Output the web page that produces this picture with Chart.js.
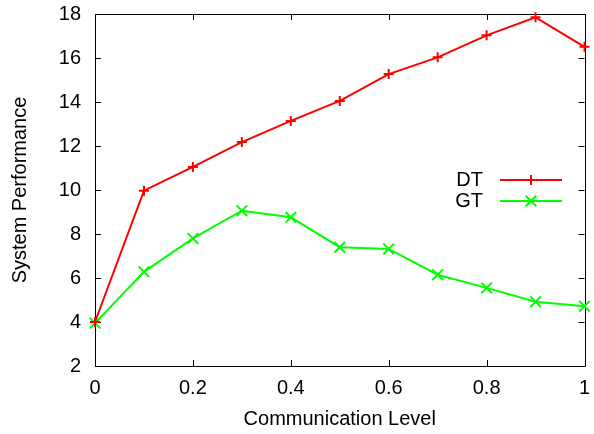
<!DOCTYPE html>
<html><head><meta charset="utf-8">
<script src="https://cdn.jsdelivr.net/npm/chart.js@4.4.1/dist/chart.umd.min.js"></script>
<style>html,body{margin:0;padding:0;background:#fff}canvas{display:block}</style>
</head><body>
<canvas id="c" width="594" height="434"></canvas>
<script>
const levels = [0, 0.1, 0.2, 0.3, 0.4, 0.5, 0.6, 0.7, 0.8, 0.9, 1];
const dtValues = [4.0, 9.97, 11.05, 12.18, 13.14, 14.05, 15.27, 16.03, 17.03, 17.85, 16.51];
const gtValues = [3.95, 6.28, 7.8, 9.06, 8.76, 7.4, 7.32, 6.15, 5.55, 4.92, 4.72];
const xTicks = [0, 0.2, 0.4, 0.6, 0.8, 1];
const yTicks = [2, 4, 6, 8, 10, 12, 14, 16, 18];
const seriesNames = ['DT', 'GT'];

const FONT = 'Liberation Sans, Arial, Helvetica, sans-serif';

function zeroPad(s) { s.paddingTop = 0; s.paddingBottom = 0; s.paddingLeft = 0; s.paddingRight = 0; }

const framePlugin = {
  id: 'frame',
  beforeDatasetsDraw(chart) {
    const {ctx, chartArea: a, scales} = chart;
    ctx.save();
    ctx.strokeStyle = '#000';
    ctx.lineWidth = 1;
    const L = 6;
    ctx.beginPath();
    scales.x.ticks.forEach(t => {
      const px = Math.round(scales.x.getPixelForValue(t.value)) + 0.5;
      ctx.moveTo(px, a.bottom); ctx.lineTo(px, a.bottom - L);
      ctx.moveTo(px, a.top); ctx.lineTo(px, a.top + L);
    });
    scales.y.ticks.forEach(t => {
      const py = Math.round(scales.y.getPixelForValue(t.value)) + 0.5;
      ctx.moveTo(a.left, py); ctx.lineTo(a.left + L, py);
      ctx.moveTo(a.right, py); ctx.lineTo(a.right - L, py);
    });
    ctx.stroke();
    ctx.beginPath();
    ctx.rect(Math.round(a.left) + 0.5, Math.round(a.top) + 0.5,
             Math.round(a.right - a.left), Math.round(a.bottom - a.top));
    ctx.stroke();
    ctx.restore();
  },
  afterDraw(chart) {
    const {ctx} = chart;
    ctx.save();
    ctx.font = '20px ' + FONT;
    ctx.textAlign = 'right';
    ctx.textBaseline = 'middle';
    const rows = [180, 201];
    chart.data.datasets.forEach((ds, i) => {
      const y = rows[i];
      ctx.fillStyle = '#000';
      ctx.fillText(ds.label, 483, y);
      ctx.strokeStyle = ds.borderColor;
      ctx.lineWidth = ds.borderWidth;
      ctx.beginPath();
      ctx.moveTo(500, y); ctx.lineTo(562, y);
      ctx.stroke();
      Chart.helpers.drawPoint(ctx, {
        pointStyle: ds.pointStyle, radius: ds.pointRadius, rotation: 0,
        borderWidth: ds.pointBorderWidth
      }, 531, y);
    });
    ctx.restore();
  }
};

const toXY = vals => vals.map((v, i) => ({x: levels[i], y: v}));

new Chart(document.getElementById('c'), {
  type: 'line',
  data: {
    datasets: [
      {label: seriesNames[0], data: toXY(dtValues), borderColor: '#ff0000', backgroundColor: '#ff0000',
       borderWidth: 2, pointStyle: 'cross', pointRadius: 5, pointBorderWidth: 2, pointHoverRadius: 5,
       tension: 0, fill: false, clip: false},
      {label: seriesNames[1], data: toXY(gtValues), borderColor: '#00ff00', backgroundColor: '#00ff00',
       borderWidth: 2, pointStyle: 'crossRot', pointRadius: 7.5, pointBorderWidth: 2, pointHoverRadius: 7.5,
       tension: 0, fill: false, clip: false}
    ]
  },
  options: {
    responsive: false,
    animation: false,
    events: [],
    layout: {padding: {top: 14, right: 7, left: 0, bottom: 0}},
    plugins: {legend: {display: false}, tooltip: {enabled: false}},
    scales: {
      x: {
        type: 'linear', min: 0, max: 1,
        afterBuildTicks: s => { s.ticks = xTicks.map(v => ({value: v})); },
        afterFit: s => { s.height = 68; zeroPad(s); },
        grid: {display: false, drawTicks: false},
        border: {display: false},
        ticks: {padding: 10, color: '#000', font: {family: FONT, size: 20}, maxRotation: 0,
                callback: v => String(v)},
        title: {display: true, text: 'Communication Level', color: '#000',
                font: {family: FONT, size: 20}, padding: {top: 0, bottom: 3}}
      },
      y: {
        type: 'linear', min: 2, max: 18,
        afterBuildTicks: s => { s.ticks = yTicks.map(v => ({value: v})); },
        afterFit: s => { s.width = 95; zeroPad(s); },
        grid: {display: false, drawTicks: false},
        border: {display: false},
        ticks: {padding: 14, color: '#000', font: {family: FONT, size: 20},
                callback: v => String(v)},
        title: {display: true, text: 'System Performance', color: '#000',
                font: {family: FONT, size: 20}, padding: {top: 8, bottom: 0}}
      }
    }
  },
  plugins: [framePlugin]
});
</script>
</body></html>
